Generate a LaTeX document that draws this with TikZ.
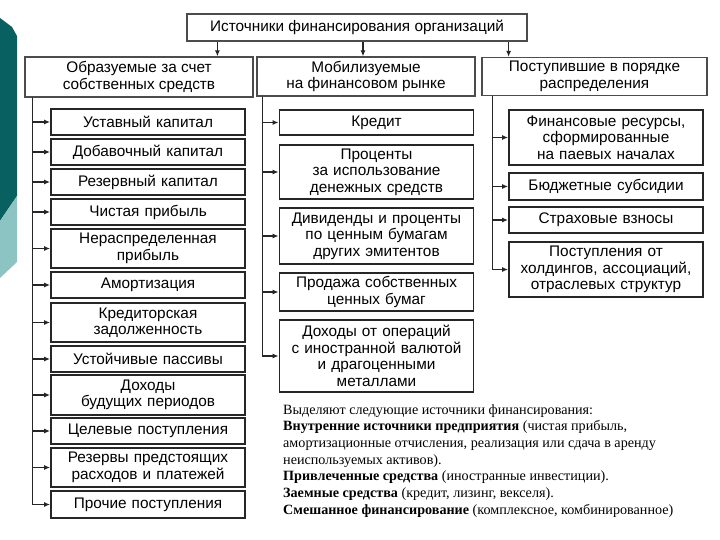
\documentclass[tikz,border=0pt]{standalone}
\usepackage{fontspec}
\setmainfont{Liberation Serif}
\setsansfont{Liberation Sans}
\usetikzlibrary{arrows.meta}
\definecolor{tealdark}{RGB}{8,96,96}
\definecolor{teallight}{RGB}{140,196,196}

\begin{document}
\begin{tikzpicture}[x=1bp, y=-1bp]
    \tikzstyle{src box} = [draw=black!70, line width=1.2bp, fill=white, align=center, inner sep=2bp, font=\sffamily\fontsize{15.4}{16.5}\selectfont]
    \tikzstyle{group box} = [src box, minimum height=39bp]
    \tikzstyle{item box} = [src box, draw=black!85, line width=1.8bp, text width=188bp, minimum width=194bp]
    \tikzstyle{tree edge} = [draw=black!85, line width=1.2bp]
    \tikzstyle{tree edge directed} = [tree edge, ->, >={Latex[length=6bp, width=5bp]}]
\useasboundingbox (0,0) rectangle (720,540);
% side decoration
\fill[tealdark] (0,18) -- (12,27) -- (17,36) -- (17,196) -- (0,221) -- cycle;
\fill[teallight] (0,221) -- (17,196) -- (17,262) -- (0,278) -- cycle;
% top levels
\node[src box, minimum width=340bp, minimum height=27bp] (root) at (357, 27.5) {Источники финансирования организаций};
\node[group box, minimum width=228bp, minimum height=40bp] (own) at (139, 77) {Образуемые за счет\\собственных средств};
\node[group box, minimum width=218bp] (market) at (366, 76.5) {Мобилизуемые\\на финансовом рынке};
\node[group box, minimum width=225bp, minimum height=38bp] (distrib) at (594.5, 76.5) {Поступившие в порядке\\распределения};
% own sources
\node[item box, minimum height=26bp] (ustav) at (148, 122) {Уставный капитал};
\node[item box, minimum height=26bp] (dobav) at (148, 152) {Добавочный капитал};
\node[item box, minimum height=26bp] (rezerv) at (148, 182) {Резервный капитал};
\node[item box, minimum height=26bp] (chist) at (148, 212) {Чистая прибыль};
\node[item box, minimum height=39bp] (neraspr) at (148, 248.5) {Нераспределенная\\прибыль};
\node[item box, minimum height=26bp] (amort) at (148, 285) {Амортизация};
\node[item box, minimum height=39bp] (kredzad) at (148, 322.5) {Кредиторская\\задолженность};
\node[item box, minimum height=26bp] (ustoich) at (148, 359) {Устойчивые пассивы};
\node[item box, minimum height=40bp] (dohbud) at (148, 395) {Доходы\\будущих периодов};
\node[item box, minimum height=26bp] (celev) at (148, 431) {Целевые поступления};
\node[item box, minimum height=39bp] (rezpred) at (148, 467.5) {Резервы предстоящих\\расходов и платежей};
\node[item box, minimum height=27bp] (proch) at (148, 504.5) {Прочие поступления};
% market sources
\node[item box, minimum height=25bp] (kredit) at (376.5, 122.5) {Кредит};
\node[item box, minimum height=54bp] (procent) at (376.5, 172) {Проценты\\за использование\\денежных средств};
\node[item box, minimum height=56bp] (divid) at (376.5, 236) {Дивиденды и проценты\\по ценным бумагам\\других эмитентов};
\node[item box, minimum height=38bp] (prodazha) at (376.5, 292) {Продажа собственных\\ценных бумаг};
\node[item box, minimum height=72bp] (valuta) at (376.5, 356) {Доходы от операций\\с иностранной валютой\\и драгоценными\\металлами};
% distributed sources
\node[item box, minimum height=55bp] (paev) at (606, 137.5) {Финансовые ресурсы,\\сформированные\\на паевых началах};
\node[item box, minimum height=27bp] (budzhet) at (606, 186.5) {Бюджетные субсидии};
\node[item box, minimum height=26bp] (strah) at (606, 220) {Страховые взносы};
\node[item box, minimum height=55bp] (holding) at (606, 269.5) {Поступления от\\холдингов, ассоциаций,\\отраслевых структур};
% note
\node[anchor=north west, align=left, inner sep=0pt, font=\fontsize{14.2}{16.8}\selectfont] (note) at (283, 404) {Выделяют следующие источники финансирования:\\
\textbf{Внутренние источники предприятия} (чистая прибыль,\\
амортизационные отчисления, реализация или сдача в аренду\\
неиспользуемых активов).\\
\textbf{Привлеченные средства} (иностранные инвестиции).\\
\textbf{Заемные средства} (кредит, лизинг, векселя).\\
\textbf{Смешанное финансирование} (комплексное, комбинированное)};
% edges
\coordinate (own top) at ([xshift=8bp]own.south west);
\coordinate (market top) at ([xshift=6bp]market.south west);
\coordinate (distrib top) at ([xshift=11bp]distrib.south west);
\draw[tree edge directed] ([xshift=31bp]root.south west) to ([xshift=31bp]root.south west |- own.north);
\draw[tree edge directed] ([xshift=6bp]root.south) to ([xshift=6bp]root.south |- market.north);
\draw[tree edge directed] ([xshift=-19bp]root.south east) to ([xshift=-19bp]root.south east |- distrib.north);
\draw[tree edge directed] (own top) |- (ustav);
\draw[tree edge directed] (own top) |- (dobav);
\draw[tree edge directed] (own top) |- (rezerv);
\draw[tree edge directed] (own top) |- (chist);
\draw[tree edge directed] (own top) |- (neraspr);
\draw[tree edge directed] (own top) |- (amort);
\draw[tree edge directed] (own top) |- (kredzad);
\draw[tree edge directed] (own top) |- (ustoich);
\draw[tree edge directed] (own top) |- (dohbud);
\draw[tree edge directed] (own top) |- (celev);
\draw[tree edge directed] (own top) |- (rezpred);
\draw[tree edge directed] (own top) |- (proch);
\draw[tree edge directed] (market top) |- (kredit);
\draw[tree edge directed] (market top) |- (procent);
\draw[tree edge directed] (market top) |- (divid);
\draw[tree edge directed] (market top) |- (prodazha);
\draw[tree edge directed] (market top) |- (valuta);
\draw[tree edge directed] (distrib top) |- (paev);
\draw[tree edge directed] (distrib top) |- (budzhet);
\draw[tree edge directed] (distrib top) |- (strah);
\draw[tree edge directed] (distrib top) |- (holding);
\end{tikzpicture}
\end{document}
